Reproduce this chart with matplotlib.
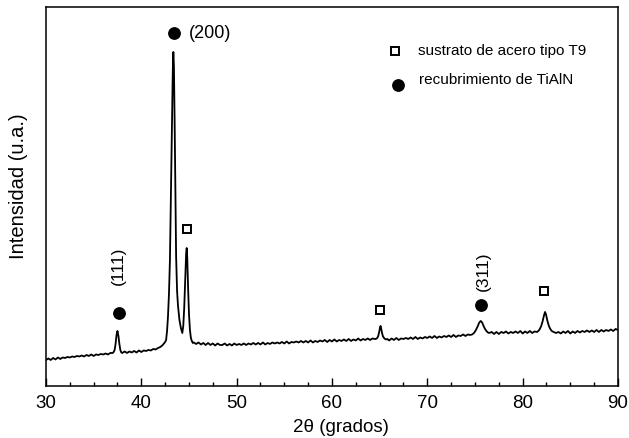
import matplotlib
matplotlib.use("Agg")
import matplotlib.pyplot as plt

plt.rcParams['font.family'] = ['Liberation Sans', 'DejaVu Sans']

# ---- data (intensity in arbitrary units) ----
two_theta = [
    30.0, 30.25, 30.5, 30.75, 31.0, 31.25, 31.5, 31.75, 32.0, 32.25, 32.5, 32.75,
    33.0, 33.25, 33.5, 33.75, 34.0, 34.25, 34.5, 34.75, 35.0, 35.25, 35.5, 35.75,
    36.0, 36.25, 36.5, 36.75, 37.0,
    37.1, 37.2, 37.3, 37.4, 37.5, 37.6, 37.7, 37.8, 37.9, 38.0,
    38.25, 38.5, 38.75, 39.0, 39.25, 39.5, 39.75, 40.0, 40.25, 40.5, 40.75, 41.0,
    41.25, 41.5, 41.75, 42.0, 42.25, 42.5,
    42.6, 42.7, 42.8, 42.9, 43.0, 43.1, 43.2, 43.3, 43.36, 43.42, 43.5, 43.58,
    43.65, 43.75, 43.85, 44.0, 44.15, 44.3, 44.4, 44.5, 44.6, 44.7, 44.76, 44.82,
    44.9, 45.0, 45.1, 45.2, 45.3, 45.4,
    45.5, 45.75, 46.0, 46.25, 46.5, 46.75, 47.0, 47.25, 47.5, 47.75, 48.0, 48.25,
    48.5, 48.75, 49.0, 49.25, 49.5, 49.75, 50.0, 50.25, 50.5, 50.75, 51.0, 51.25,
    51.5, 51.75, 52.0, 52.25, 52.5, 52.75, 53.0, 53.25, 53.5, 53.75, 54.0, 54.25,
    54.5, 54.75, 55.0, 55.25, 55.5, 55.75, 56.0, 56.25, 56.5, 56.75, 57.0, 57.25,
    57.5, 57.75, 58.0, 58.25, 58.5, 58.75, 59.0, 59.25, 59.5, 59.75, 60.0, 60.25,
    60.5, 60.75, 61.0, 61.25, 61.5, 61.75, 62.0, 62.25, 62.5, 62.75, 63.0, 63.25,
    63.5, 63.75, 64.0, 64.25, 64.5,
    64.6, 64.75, 64.85, 64.95, 65.05, 65.1, 65.15, 65.25, 65.35, 65.5, 65.65, 65.8,
    66.0, 66.25, 66.5, 66.75, 67.0, 67.25, 67.5, 67.75, 68.0, 68.25, 68.5, 68.75,
    69.0, 69.25, 69.5, 69.75, 70.0, 70.25, 70.5, 70.75, 71.0, 71.25, 71.5, 71.75,
    72.0, 72.25, 72.5, 72.75, 73.0, 73.25, 73.5, 73.75, 74.0, 74.25, 74.5,
    74.7, 74.9, 75.1, 75.3, 75.45, 75.6, 75.75, 75.9, 76.05, 76.2, 76.35, 76.5, 76.75,
    77.0, 77.25, 77.5, 77.75, 78.0, 78.25, 78.5, 78.75, 79.0, 79.25, 79.5, 79.75,
    80.0, 80.25, 80.5, 80.75, 81.0, 81.25, 81.5,
    81.65, 81.8, 81.95, 82.1, 82.25, 82.35, 82.45, 82.6, 82.75, 82.9, 83.05, 83.25, 83.5,
    83.75, 84.0, 84.25, 84.5, 84.75, 85.0, 85.25, 85.5, 85.75, 86.0, 86.25, 86.5,
    86.75, 87.0, 87.25, 87.5, 87.75, 88.0, 88.25, 88.5, 88.75, 89.0, 89.25, 89.5,
    89.75, 90.0,
]
intensity = [
    26, 27.5, 26, 28, 26.5, 28.5, 27, 28.5, 28, 29, 28.5, 29.5,
    29, 30, 29.5, 30.5, 29.5, 31, 30, 31.5, 30, 31.5, 31, 32,
    31.5, 32.5, 31.5, 33, 33,
    34, 36, 42, 51, 55, 50, 42, 36, 33.5, 33,
    34.5, 33, 34.5, 33.5, 35, 33.5, 35.5, 34, 35.5, 35, 36, 35.5,
    37, 36.5, 38, 39, 41, 44,
    46, 55, 70, 92, 125, 190, 260, 315, 334, 320, 260, 190,
    130, 95, 80, 66, 58, 53, 60, 78, 105, 132, 138, 128,
    100, 72, 56, 48, 45, 43,
    43.5, 42, 43.5, 41.5, 43, 41, 43, 41, 42.5, 40.5, 42.5, 41,
    41, 42.5, 40.5, 42, 40.5, 42.5, 41, 42, 41, 42.5, 41, 42.5,
    41.5, 43, 41.5, 43, 41.5, 43.5, 41.5, 43, 42, 43.5, 42.5, 43.5,
    42.5, 44, 42.5, 44.5, 42.5, 44, 43.5, 44.5, 43.5, 45, 43.5, 45,
    43.5, 45.5, 43.5, 45, 44, 45.5, 44.5, 46, 44, 46, 44.5, 46.5,
    44.5, 46, 45, 46.5, 45, 47, 45, 46.5, 45.5, 47.5, 45.5, 47,
    46, 47.5, 46, 47.5, 47,
    47, 48, 50, 54, 59, 60, 58, 53, 49.5, 47.5, 46.5, 47,
    45.5, 47.5, 46, 48, 46, 47.5, 47, 48, 47, 48.5, 47, 49,
    47, 48.5, 47.5, 49, 48, 49.5, 48, 50, 48, 49.5, 48.5, 50,
    49, 50.5, 49, 51, 49, 50.5, 50, 51.5, 50, 51.5, 51,
    51.5, 53, 56, 60, 63.5, 65, 63.5, 60, 57, 55, 53.5, 53, 54,
    52, 54, 52, 54, 53, 54.5, 52.5, 54, 53, 54.5, 53, 55,
    52.5, 54.5, 53, 55, 53, 54.5, 54,
    55, 57, 60, 65, 71, 74, 71.5, 65, 60, 57, 55, 54, 53,
    54, 52.5, 54.5, 53, 55, 52.5, 54.5, 53, 55, 53.5, 55, 54,
    55.5, 54, 55.5, 54, 56, 54, 56, 54.5, 56, 55, 56.5, 55,
    57, 56,
]

# phase markers: (2theta, height)
coating_x = [37.63, 43.38, 75.58]
coating_y = [73, 353, 81]
substrate_x = [44.84, 65.0, 82.2]
substrate_y = [157, 76, 95]

plane_labels = ['(111)', '(200)', '(311)']
xticks = [30, 40, 50, 60, 70, 80, 90]

fig = plt.figure(figsize=(6.29, 4.39), dpi=100)
ax = fig.add_axes([0.0731, 0.1185, 0.9094, 0.8633])

ax.plot(two_theta, intensity, color='black', linewidth=1.3)

ax.plot(coating_x, coating_y, 'o', color='black', markersize=8.2, linestyle='none')
ax.plot(substrate_x, substrate_y, 's', markerfacecolor='white', markeredgecolor='black',
        markeredgewidth=1.4, markersize=6.3, linestyle='none')

# plane labels
ax.text(37.6, 121, plane_labels[0], rotation=90, ha='center', va='center', fontsize=12.5)
ax.text(45.0, 353, plane_labels[1], ha='left', va='center', fontsize=13)
ax.text(75.87, 116, plane_labels[2], rotation=90, ha='center', va='center', fontsize=12.5)

# in-plot legend
ax.plot([66.6], [335], 's', markerfacecolor='white', markeredgecolor='black',
        markeredgewidth=1.4, markersize=6.3)
ax.text(69.06, 336, 'sustrato de acero tipo T9', ha='left', va='center', fontsize=11)
ax.plot([66.95], [301], 'o', color='black', markersize=8.2)
ax.text(69.16, 307, 'recubrimiento de TiAlN', ha='left', va='center', fontsize=11)

ax.set_xlim(30, 90)
ax.set_ylim(0, 379)
ax.set_xticks(xticks)
ax.set_xticks([x + 2.5 * k for x in xticks[:-1] for k in (1, 2, 3)], minor=True)
ax.set_yticks([])
ax.tick_params(axis='x', which='major', direction='in', length=6, width=1, labelsize=13.5, pad=6)
ax.tick_params(axis='x', which='minor', direction='in', length=3, width=1)
for s in ax.spines.values():
    s.set_linewidth(1.1)

ax.set_xlabel('2θ (grados)', fontsize=13.5)
ax.set_ylabel('Intensidad (u.a.)', fontsize=14.5)
ax.xaxis.set_label_coords(0.515, -0.085)
ax.yaxis.set_label_coords(-0.031, 0.53)

fig.savefig('out.png', dpi=100)
